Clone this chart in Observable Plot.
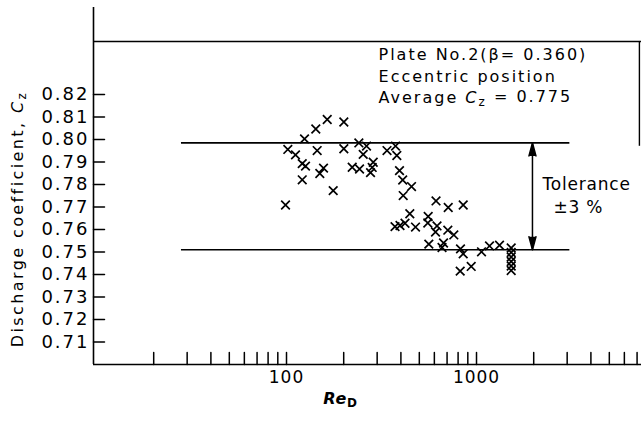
<!DOCTYPE html>
<html><head><meta charset="utf-8">
<script src="https://cdn.jsdelivr.net/npm/d3@7"></script>
<script src="https://cdn.jsdelivr.net/npm/@observablehq/plot@0.6"></script>
<style>
body{margin:0;background:#fff}
#chart svg{display:block}
</style>
</head><body><div id="chart"></div>
<script>
// Measured points: Reynolds number (Re_D) and discharge coefficient (C_z)
const reynolds = [98.8,101.6,111.5,121,125.9,121,124.4,142.6,145,156.6,149.7,163.8,176.1,200.3,200.3,
  221.7,240.3,263.7,253.3,242.3,286,282.5,276.8,
  338,374.8,380.7,393.3,408.8,454.9,411.3,445.6,372.5,395.7,420.4,477.5,
  556.8,554.1,612.2,709.8,851.1,619.7,608.5,706.3,759.5,561,670.5,658.4,
  823.6,851,820.6,937.8,1062.5,1170.6,1321.3,1522.6,1522.6,1522.6,1522.6,1522.6,1522.6];
const cz = [0.7709,0.7956,0.7932,0.7893,0.7882,0.7821,0.8003,0.8047,0.7951,0.7873,0.7849,0.8089,0.7773,0.8078,0.7959,
  0.7877,0.7985,0.7971,0.7934,0.7869,0.7899,0.7876,0.7853,
  0.7951,0.7971,0.7929,0.7862,0.7820,0.7791,0.7751,0.7670,0.7613,0.7618,0.7628,0.7611,
  0.7658,0.7629,0.7727,0.7698,0.7709,0.7616,0.7589,0.7597,0.7576,0.7535,0.7540,0.7520,
  0.7514,0.7492,0.7415,0.7436,0.7501,0.7527,0.7530,0.7518,0.7498,0.7478,0.7458,0.7438,0.7418];

const yTicks = [0.71,0.72,0.73,0.74,0.75,0.76,0.77,0.78,0.79,0.80,0.81,0.82];
const yTickLabels = ["0.71","0.72","0.73","0.74","0.75","0.76","0.77","0.78","0.79","0.80","0.81","0.82"];
const xTicks = [20,30,40,50,60,70,80,90,100,200,300,400,500,600,700,800,900,1000,2000,3000,4000,5000,6000,7000];
const xLabelValues = [100,1000];
const xLabelTexts = ["100","1000"];

const xDomain = [9.643, 7385];
const yDomain = [0.70, 0.8587];
const topLine = 0.8436;
const toleranceLevels = [0.7985, 0.7510];
const toleranceSpan = [28, 3100];
const arrowRe = 1970;
const frameRe = 7200;
const frameBottom = 0.797;

const noteX = [305, 305, 305];
const noteY = [0.8378, 0.8278, 0.8186];
const noteText = ["Plate No.2(β= 0.360)", "Eccentric position", "Average C_z = 0.775"];
const tolX = [2225, 2541];
const tolY = [0.7802, 0.7699];
const tolText = ["Tolerance", "±3 %"];

const points = reynolds.map((r, i) => ({re: r, cz: cz[i]}));
const notes = noteText.map((t, i) => ({x: noteX[i], y: noteY[i], t}));
const tols = tolText.map((t, i) => ({x: tolX[i], y: tolY[i], t}));
const xLabels = xLabelValues.map((v, i) => ({v, t: xLabelTexts[i]}));
const yLabels = yTicks.map((v, i) => ({v, t: yTickLabels[i]}));

const font = "'DejaVu Sans', sans-serif";

const svg = Plot.plot({
  width: 641, height: 422,
  marginLeft: 93, marginRight: 0, marginTop: 7, marginBottom: 58,
  style: {background: "#fff", fontFamily: font, fontSize: "17px", color: "#000"},
  x: {type: "log", domain: xDomain, axis: null},
  y: {domain: yDomain, axis: null},
  marks: [
    Plot.ruleY([yDomain[0]], {stroke: "#000", strokeWidth: 1.6}),
    Plot.ruleX([xDomain[0]], {stroke: "#000", strokeWidth: 1.6}),
    Plot.ruleY([topLine], {stroke: "#000", strokeWidth: 1.6}),
    Plot.ruleX([frameRe], {y1: frameBottom, y2: topLine, stroke: "#000", strokeWidth: 1.4}),
    Plot.vector(yTicks, {x: xDomain[0], y: d => d, length: 11, rotate: 90, anchor: "start", r: 0, stroke: "#000", strokeWidth: 1.5}),
    Plot.text(yLabels, {x: xDomain[0], y: "v", text: "t", textAnchor: "end", dx: -4, fontSize: 18, fill: "#000", className: "ylab"}),
    Plot.vector(xTicks, {x: d => d, y: yDomain[0], length: 12, rotate: 0, anchor: "start", r: 0, stroke: "#000", strokeWidth: 1.5}),
    Plot.text(xLabels, {x: "v", y: yDomain[0], text: "t", dy: 13, fontSize: 17, fill: "#000", className: "xlab"}),
    Plot.ruleY(toleranceLevels, {x1: toleranceSpan[0], x2: toleranceSpan[1], stroke: "#000", strokeWidth: 1.6}),
    Plot.ruleX([arrowRe], {y1: toleranceLevels[1], y2: toleranceLevels[0], stroke: "#000", strokeWidth: 1.5}),
    Plot.vector([toleranceLevels[0]], {x: arrowRe, y: d => d, shape: "spike", length: 13, r: 3.5, anchor: "end", rotate: 0, fill: "#000", stroke: "#000"}),
    Plot.vector([toleranceLevels[1]], {x: arrowRe, y: d => d, shape: "spike", length: 13, r: 3.5, anchor: "end", rotate: 180, fill: "#000", stroke: "#000"}),
    Plot.dot(points, {x: "re", y: "cz", symbol: "times", r: 4, stroke: "#000", strokeWidth: 1.7}),
    Plot.text(notes, {x: "x", y: "y", text: "t", textAnchor: "start", fontSize: 16, fill: "#000", className: "note"}),
    Plot.text(tols, {x: "x", y: "y", text: "t", textAnchor: "start", fontSize: 17, fill: "#000", className: "tol"}),
    Plot.text(["Discharge coefficient, C_z"], {frameAnchor: "left", textAnchor: "middle", dx: -76, dy: 33, rotate: -90, fontSize: 16, fill: "#000", className: "ytitle"}),
    Plot.text(["Re_D"], {frameAnchor: "bottom", dx: -27, dy: 39, fontSize: 16, fill: "#000"})
  ]
});

// rich text: italic symbols and subscripts
d3.select(svg).selectAll("text").each(function() {
  const el = d3.select(this);
  const t = this.textContent;
  if (t.includes("C_z")) {
    const [before, after] = t.split("C_z");
    el.text(null);
    el.append("tspan").text(before);
    el.append("tspan").attr("font-style", "italic").text("C");
    el.append("tspan").attr("dy", "0.3em").attr("font-size", "0.75em").text("z");
    el.append("tspan").attr("dy", "-0.3em").text(after);
  } else if (t === "Re_D") {
    el.text(null);
    el.append("tspan").attr("font-style", "italic").attr("font-weight", "bold").text("Re");
    el.append("tspan").attr("dy", "0.3em").attr("font-size", "0.75em").attr("font-weight", "bold").text("D");
  }
});
const sel = d3.select(svg);
sel.selectAll("text").style("letter-spacing", "0.8px");
sel.selectAll(".ylab text").style("letter-spacing", "2px");
sel.selectAll(".xlab text").style("letter-spacing", "1px");
sel.selectAll(".note text").style("letter-spacing", "2px");
sel.selectAll(".ytitle text").style("letter-spacing", "2.4px");

document.getElementById("chart").appendChild(svg);
</script>
</body></html>
